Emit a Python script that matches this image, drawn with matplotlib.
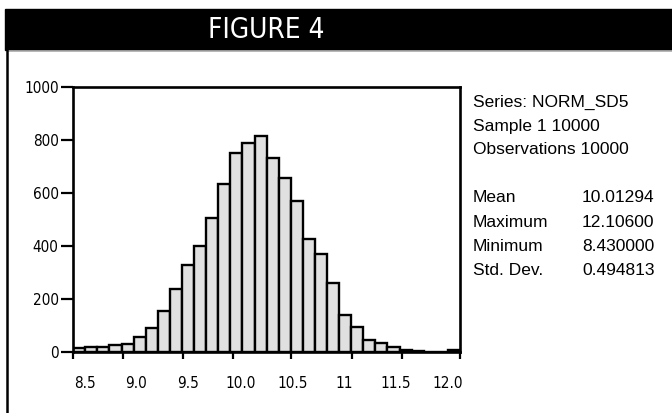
import numpy as np
import matplotlib
matplotlib.use('Agg')
from matplotlib import pyplot as plt
from matplotlib import font_manager as fm
from matplotlib.patches import Rectangle
from matplotlib.lines import Line2D

########
# DATA #
########

bin_start = 8.391
bin_width = 0.1164
counts = [13, 17, 19, 24, 29, 57, 89, 155, 237, 328, 400,
          504, 632, 748, 786, 815, 732, 657, 569, 426, 368,
          258, 140, 94, 45, 32, 17, 5, 4, 0, 0, 6]

label_vals = [8.5, 9.0, 9.5, 10.0, 10.5, 11.0, 11.5, 12.0]
label_text = ['8.5', '9.0', '9.5', '10.0', '10.5', '11', '11.5', '12.0']
tick_marks = [8.384, 8.875, 9.452, 9.933, 10.49, 11.077, 11.558, 12.115]
y_ticks = [0, 200, 400, 600, 800, 1000]

stat_names = ['Mean', 'Maximum', 'Minimum', 'Std. Dev.']
stat_vals = ['10.01294', '12.10600', '8.430000', '0.494813']
header_lines = ['Series: NORM_SD5', 'Sample 1 10000', 'Observations 10000']

plain = ['Liberation Sans', 'DejaVu Sans']


# find a condensed face if one is installed
def narrow_font(size, weight='normal'):
    for fam, stretch in [('Liberation Sans Narrow', 'normal'),
                         ('DejaVu Sans', 'condensed')]:
        fp = fm.FontProperties(family=fam, stretch=stretch, weight=weight,
                               size=size)
        try:
            path = fm.findfont(fp, fallback_to_default=False)
        except ValueError:
            continue
        if 'Narrow' in path or 'Condensed' in path:
            return fp, True
    return fm.FontProperties(family='Liberation Sans', weight=weight,
                             size=size), False


edges = bin_start + bin_width * np.arange(len(counts) + 1)

########
# PLOT #
########

W, H = 672, 413
fig = plt.figure(figsize=(W / 100, H / 100), dpi=100)

# black title band, gray rule and left border
fig.patches.append(Rectangle((5 / W, 1 - 49.5 / H), 1, 40 / H,
                             transform=fig.transFigure, color='black'))
fig.lines.append(Line2D([8 / W, 1], [1 - 50.5 / H] * 2,
                        transform=fig.transFigure, color='#b4b4b4', lw=1.2))
fig.lines.append(Line2D([7 / W] * 2, [0, 1 - 49.5 / H],
                        transform=fig.transFigure, color='black', lw=1.8))

title_fp, ok = narrow_font(20)
if not ok:
    title_fp = fm.FontProperties(family='Liberation Sans', size=19.5)
fig.text(266 / W, 1 - 30 / H, 'FIGURE 4', color='white',
         fontproperties=title_fp, ha='center', va='center')

tick_fp, ok = narrow_font(11)
if not ok:
    tick_fp = fm.FontProperties(family='Liberation Sans', size=10.5)

ax = fig.add_axes([72.5 / W, 61.3 / H, (460 - 72.5) / W, (351.7 - 86.7) / H])
ax.bar(edges[:-1], counts, width=bin_width, align='edge',
       color='#e0e0e0', edgecolor='black', linewidth=1.7)
ax.set_xlim(edges[0], edges[-1])
ax.set_ylim(0, 1000)

for s in ax.spines.values():
    s.set_linewidth(1.9)

ax.set_yticks(y_ticks)
ax.set_yticklabels([str(v) for v in y_ticks], fontproperties=tick_fp)
ax.tick_params(axis='y', length=9, width=1.6, pad=1)

ax.set_xticks(label_vals)
ax.set_xticklabels(label_text, fontproperties=tick_fp)
ax.set_xticks(tick_marks, minor=True)
ax.tick_params(axis='x', which='major', length=0, pad=17.5)
ax.tick_params(axis='x', which='minor', length=5, width=1.6)

# statistics block
ys = [102.7, 126, 149.5]
for y, t in zip(ys, header_lines):
    fig.text(473 / W, 1 - y / H, t, fontsize=12.5, family=plain, va='center')
ys = [198, 222.5, 246.5, 270.5]
for y, n, v in zip(ys, stat_names, stat_vals):
    fig.text(473 / W, 1 - y / H, n, fontsize=12.5, family=plain, va='center')
    fig.text(582 / W, 1 - y / H, v, fontsize=12.5, family=plain, va='center')

plt.savefig('out.png', dpi=100)
plt.close()
